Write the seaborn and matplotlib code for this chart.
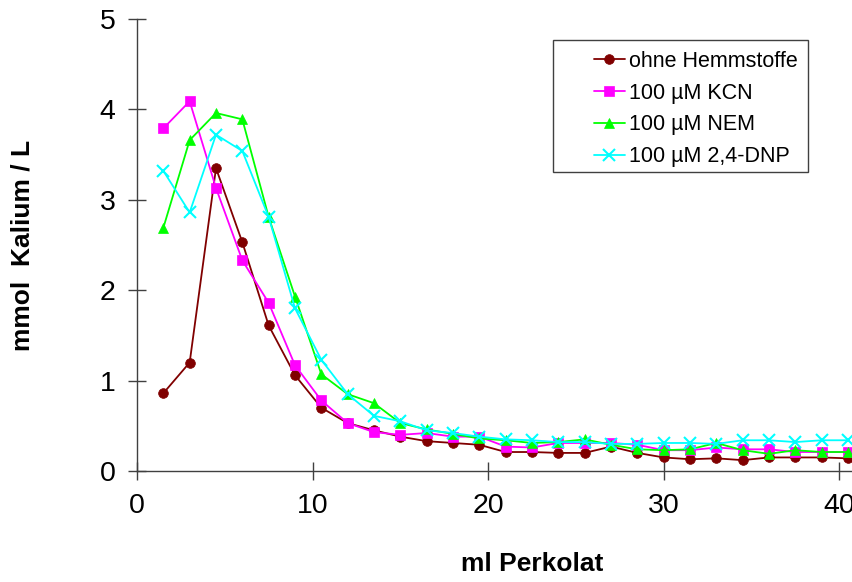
import numpy as np
import pandas as pd
import seaborn as sns
import matplotlib.pyplot as plt
from matplotlib.patches import Rectangle

# ml Perkolat (fractions of 1.5 ml)
ml = [1.5, 3, 4.5, 6, 7.5, 9, 10.5, 12, 13.5, 15, 16.5, 18, 19.5, 21, 22.5,
      24, 25.5, 27, 28.5, 30, 31.5, 33, 34.5, 36, 37.5, 39, 40.5]

ohne = [0.86, 1.20, 3.35, 2.53, 1.61, 1.06, 0.70, 0.53, 0.45, 0.38, 0.33, 0.31, 0.29, 0.21,
        0.21, 0.20, 0.20, 0.27, 0.20, 0.15, 0.13, 0.14, 0.12, 0.15, 0.15, 0.15, 0.14]
kcn = [3.79, 4.09, 3.13, 2.33, 1.86, 1.17, 0.78, 0.53, 0.43, 0.40, 0.42, 0.38, 0.38, 0.27,
       0.26, 0.31, 0.31, 0.31, 0.29, 0.23, 0.23, 0.26, 0.24, 0.24, 0.21, 0.21, 0.21]
nem = [2.69, 3.66, 3.96, 3.89, 2.81, 1.93, 1.07, 0.85, 0.75, 0.53, 0.46, 0.41, 0.36, 0.34,
       0.31, 0.32, 0.35, 0.29, 0.24, 0.23, 0.24, 0.31, 0.23, 0.19, 0.23, 0.21, 0.21]
dnp = [3.32, 2.86, 3.72, 3.54, 2.81, 1.80, 1.23, 0.85, 0.61, 0.55, 0.45, 0.42, 0.38, 0.35,
       0.34, 0.32, 0.32, 0.30, 0.30, 0.31, 0.31, 0.30, 0.34, 0.34, 0.32, 0.34, 0.34]

labels = ["ohne Hemmstoffe", "100 µM KCN", "100 µM NEM", "100 µM 2,4-DNP"]
colors = ["#800000", "#ff00ff", "#00ff00", "#00ffff"]
markers = ["o", "s", "^", "x"]

sns.set_style("white")
plt.rcParams['font.family'] = ['Liberation Sans', 'DejaVu Sans']
plt.rcParams['text.color'] = 'black'
plt.rcParams['axes.labelcolor'] = 'black'
plt.rcParams['xtick.labelcolor'] = 'black'
plt.rcParams['ytick.labelcolor'] = 'black'

fig = plt.figure(figsize=(8.52, 5.82), dpi=100)
ax = fig.add_axes([137/852, 111/582, 790/852, 452/582])

for vals, lab, col, mk in zip([ohne, kcn, nem, dnp], labels, colors, markers):
    df = pd.DataFrame({"ml": ml, "K": vals})
    sns.lineplot(data=df, x="ml", y="K", ax=ax, color=col, marker=mk, label=lab,
                 linewidth=1.3, markersize=7 if mk != "x" else 8,
                 markeredgecolor=col, markeredgewidth=1.5 if mk == "x" else 0.5)

ax.set_xlim(0, 45)
ax.set_ylim(0, 5)
ax.set_xticks([0, 10, 20, 30, 40])
ax.set_yticks([0, 1, 2, 3, 4, 5])
ax.tick_params(direction="inout", length=13, width=1, color="#404040",
               labelsize=20.5, left=True, bottom=True)
ax.tick_params(axis="x", pad=9)
ax.tick_params(axis="y", pad=9)
for s in ["top", "right"]:
    ax.spines[s].set_visible(False)
for s in ["left", "bottom"]:
    ax.spines[s].set_color("#404040")
    ax.spines[s].set_linewidth(1)

ax.set_xlabel("ml Perkolat", fontsize=19, fontweight="bold", labelpad=24)
ax.set_ylabel("mmol  Kalium / L", fontsize=19, fontweight="bold", labelpad=47)

fig.add_artist(Rectangle((553/852, 1 - 172/582), 255/852, 132/582,
                         transform=fig.transFigure, fill=False,
                         edgecolor="#404040", linewidth=1))
ax.legend(loc="upper left", bbox_to_anchor=(583/852, 1 - 40/582),
          bbox_transform=fig.transFigure, frameon=False, fontsize=15.5,
          borderpad=0, handlelength=1.45, handletextpad=0.2, labelspacing=0.5)

fig.savefig("out.png", dpi=100)
